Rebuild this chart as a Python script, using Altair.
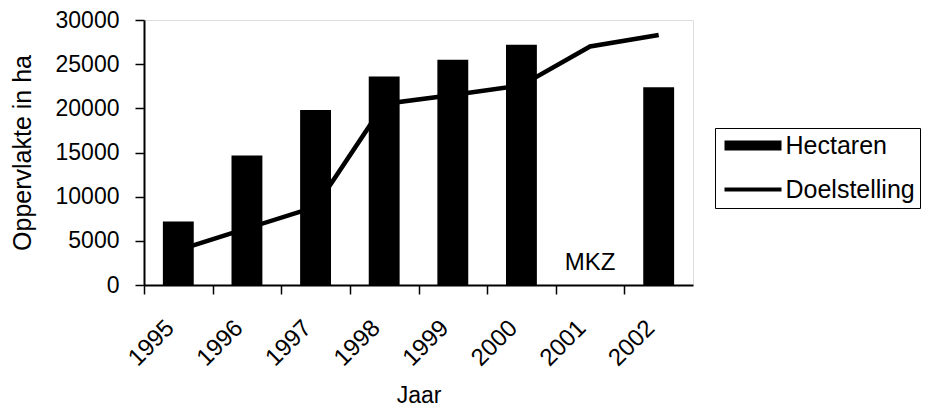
import altair as alt
import pandas as pd

# ---- data ----
years = ["1995", "1996", "1997", "1998", "1999", "2000", "2001", "2002"]
hectaren = [7200, 14650, 19800, 23600, 25500, 27200, None, 22400]
doelstelling = [3950, 6400, 8850, 20500, 21500, 22600, 27000, 28300]
series = ["Hectaren", "Doelstelling"]
note_year = ["2001"]
note_value = [1700]
note_text = ["MKZ"]

FONT = "Liberation Sans"

df = pd.DataFrame({"jaar": years, "hectaren": hectaren, "doel": doelstelling})
df_note = pd.DataFrame({"jaar": note_year, "v": note_value, "t": note_text})
df_leg = pd.DataFrame({"serie": series})

x_scale = alt.Scale(domain=years, paddingInner=0.55, paddingOuter=0.275)
y_scale = alt.Scale(domain=[0, 30000], nice=False, zero=True)

x_axis = alt.Axis(
    title="Jaar", labelAngle=315, labelAlign="right", labelBaseline="middle",
    labelFont=FONT, labelFontSize=24, labelColor="black",
    tickOffset=-34.3, labelOffset=26, labelPadding=30,
    tickSize=9, tickColor="black", tickWidth=1.5,
    domainColor="black", domainWidth=2, grid=False,
    titleFont=FONT, titleFontSize=23, titleFontWeight="normal", titleColor="black",
    titleY=117, titleBaseline="alphabetic",
)
y_axis = alt.Axis(
    title="Oppervlakte in ha", values=[0, 5000, 10000, 15000, 20000, 25000, 30000],
    format="d", labelFont=FONT, labelFontSize=23, labelColor="black",
    labelPadding=16, tickSize=9, tickColor="black", tickWidth=1.5,
    domainColor="black", domainWidth=2, grid=False,
    titleFont=FONT, titleFontSize=25, titleFontWeight="normal", titleColor="black",
    titleX=-122, titleY=132.5, titleAlign="center", titleBaseline="middle", titleAngle=270,
)

bars = alt.Chart(df).transform_filter("isValid(datum.hectaren)").mark_bar(color="black").encode(
    x=alt.X("jaar:N", scale=x_scale, axis=x_axis, sort=years),
    y=alt.Y("hectaren:Q", scale=y_scale, axis=y_axis),
)

line = alt.Chart(df).mark_line(color="black", strokeWidth=4.5).encode(
    x=alt.X("jaar:N", scale=x_scale, axis=x_axis, sort=years),
    y=alt.Y("doel:Q", scale=y_scale, axis=y_axis),
)

note = alt.Chart(df_note).mark_text(
    font=FONT, fontSize=24, color="black", align="center", baseline="alphabetic"
).encode(
    x=alt.X("jaar:N", scale=x_scale, axis=x_axis, sort=years),
    y=alt.Y("v:Q", scale=y_scale, axis=y_axis),
    text="t:N",
)

rect_path = "M-2.85,-0.5H2.85V0.5H-2.85Z"
line_path = "M-2.85,-0.2H2.85V0.2H-2.85Z"

leg = alt.Legend(
    title=None, orient="none", legendX=571, legendY=108,
    strokeColor="black", padding=5, symbolSize=400,
    symbolOffset=20.5, labelOffset=20, rowPadding=18,
    labelFont=FONT, labelFontSize=25, labelColor="black",
    symbolStrokeWidth=0, symbolOpacity=1,
)

legend_layer = alt.Chart(df_leg).transform_filter("false").mark_point(filled=True, opacity=1).encode(
    color=alt.Color("serie:N", scale=alt.Scale(domain=series, range=["black", "black"]), legend=leg),
    shape=alt.Shape("serie:N", scale=alt.Scale(domain=series, range=[rect_path, line_path]), legend=leg),
)

chart = alt.layer(bars, line, note, legend_layer).properties(
    width=549, height=265,
    autosize=alt.AutoSizeParams(type="none"),
    padding={"left": 136, "top": 12, "right": 233, "bottom": 122},
).configure_view(stroke="black", strokeWidth=1).configure(background="white")

chart.save("out.html", embed_options={"renderer": "svg", "actions": False})
